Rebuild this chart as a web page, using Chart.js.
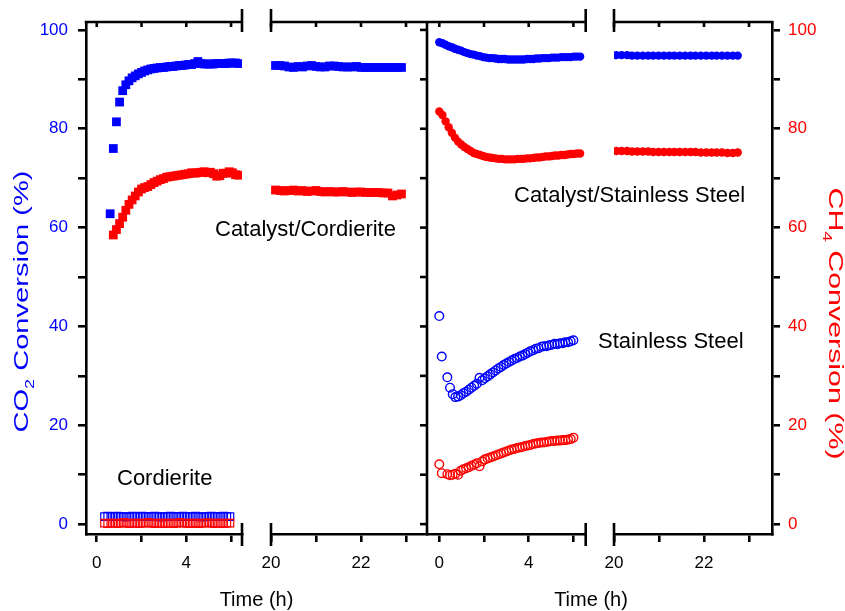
<!DOCTYPE html>
<html><head><meta charset="utf-8">
<script src="https://cdn.jsdelivr.net/npm/chart.js@4"></script>
<style>html,body{margin:0;padding:0;background:#fff}#wrap{position:relative;width:845px;height:611px}</style>
</head><body><div id="wrap"><canvas id="c" width="845" height="611"></canvas></div>
<script>
// ---------- data ----------
// Catalyst/Cordierite (filled squares)
const ccTime1 = [0.60,0.74,0.88,1.02,1.16,1.30,1.44,1.58,1.72,1.86,2.00,2.14,2.28,2.42,2.56,2.70,2.84,2.98,3.12,3.26,3.40,3.54,3.68,3.82,3.96,4.10,4.24,4.38,4.52,4.66,4.80,4.94,5.08,5.22,5.36,5.50,5.64,5.78,5.92,6.06,6.20,6.34];
const ccCO2_1 = [62.8,76.0,81.4,85.4,87.7,88.9,89.7,90.3,90.7,91.1,91.4,91.7,91.9,92.1,92.2,92.3,92.4,92.4,92.5,92.6,92.6,92.7,92.8,92.8,92.9,93.0,93.0,93.2,93.6,93.2,93.1,93.1,93.1,93.1,93.2,93.2,93.2,93.2,93.3,93.3,93.3,93.2];
const ccTimeCH4_1 = [0.74,0.88,1.02,1.16,1.30,1.44,1.58,1.72,1.86,2.00,2.14,2.28,2.42,2.56,2.70,2.84,2.98,3.12,3.26,3.40,3.54,3.68,3.82,3.96,4.10,4.24,4.38,4.52,4.66,4.80,4.94,5.08,5.22,5.36,5.50,5.64,5.78,5.92,6.06,6.20,6.34];
const ccCH4_1 = [58.5,59.6,60.8,62.1,63.5,64.7,65.6,66.4,67.2,67.8,68.1,68.3,68.7,69.1,69.4,69.7,69.9,70.2,70.3,70.4,70.5,70.6,70.7,70.8,70.9,71.1,71.0,71.1,71.2,71.3,71.1,71.2,70.9,70.4,70.5,71.0,71.0,71.3,71.1,70.7,70.6];
const ccTime2 = [20.1,20.2,20.3,20.4,20.5,20.6,20.7,20.8,20.9,21.0,21.1,21.2,21.3,21.4,21.5,21.6,21.7,21.8,21.9,22.0,22.1,22.2,22.3,22.4,22.5,22.6,22.7,22.8,22.9];
const ccCO2_2 = [92.8,92.8,92.7,92.5,92.4,92.6,92.5,92.7,92.8,92.6,92.5,92.5,92.7,92.7,92.6,92.5,92.5,92.5,92.6,92.4,92.4,92.4,92.4,92.4,92.4,92.4,92.4,92.4,92.4];
const ccCH4_2 = [67.6,67.5,67.4,67.5,67.6,67.4,67.5,67.3,67.4,67.5,67.3,67.2,67.3,67.2,67.2,67.3,67.2,67.1,67.2,67.2,67.1,67.1,67.1,67.1,67.0,67.0,66.4,66.6,66.8];
// Cordierite (open squares)
const cdTime = [0.35,0.49,0.63,0.77,0.91,1.05,1.19,1.33,1.47,1.61,1.75,1.89,2.03,2.17,2.31,2.45,2.59,2.73,2.87,3.01,3.15,3.29,3.43,3.57,3.71,3.85,3.99,4.13,4.27,4.41,4.55,4.69,4.83,4.97,5.11,5.25,5.39,5.53,5.67,5.81,5.95];
const cdCO2 = [1.5,1.6,1.5,1.5,1.6,1.5,1.5,1.4,1.5,1.6,1.5,1.5,1.6,1.5,1.5,1.5,1.6,1.5,1.4,1.5,1.5,1.6,1.5,1.5,1.5,1.6,1.5,1.5,1.5,1.6,1.5,1.4,1.5,1.5,1.6,1.5,1.5,1.5,1.6,1.5,1.5];
const cdCH4 = [0.2,0.1,0.2,0.2,0.1,0.2,0.3,0.2,0.1,0.2,0.2,0.1,0.2,0.2,0.3,0.2,0.1,0.2,0.2,0.1,0.2,0.2,0.1,0.2,0.3,0.2,0.2,0.1,0.2,0.2,0.1,0.2,0.2,0.3,0.2,0.1,0.2,0.2,0.1,0.2,0.2];
// Catalyst/Stainless Steel (filled circles)
const csTime1 = [0.00,0.14,0.28,0.42,0.56,0.70,0.84,0.98,1.12,1.26,1.40,1.54,1.68,1.82,1.96,2.10,2.24,2.38,2.52,2.66,2.80,2.94,3.08,3.22,3.36,3.50,3.64,3.78,3.92,4.06,4.20,4.34,4.48,4.62,4.76,4.90,5.04,5.18,5.32,5.46,5.60,5.74,5.88,6.02,6.16,6.30];
const csCO2_1 = [97.5,97.3,97.0,96.7,96.5,96.2,96.0,95.8,95.5,95.3,95.1,95.0,94.8,94.7,94.5,94.4,94.3,94.3,94.2,94.1,94.1,94.1,94.0,94.0,94.0,94.0,94.0,94.0,94.1,94.1,94.1,94.2,94.2,94.3,94.3,94.3,94.4,94.4,94.4,94.5,94.5,94.5,94.5,94.6,94.6,94.6];
const csCH4_1 = [83.5,82.8,81.5,80.3,79.2,78.2,77.4,76.8,76.3,75.9,75.5,75.1,74.9,74.7,74.5,74.3,74.2,74.1,74.0,73.9,73.9,73.8,73.8,73.8,73.8,73.9,73.9,73.9,74.0,74.0,74.1,74.2,74.2,74.3,74.4,74.4,74.5,74.6,74.6,74.7,74.7,74.8,74.9,74.9,75.0,75.0];
const csTime2 = [20.05,20.17,20.29,20.40,20.52,20.64,20.76,20.87,20.99,21.11,21.23,21.34,21.46,21.58,21.70,21.81,21.93,22.05,22.17,22.28,22.40,22.52,22.64,22.75];
const csCO2_2 = [94.9,94.9,94.9,94.8,94.8,94.8,94.8,94.8,94.8,94.8,94.8,94.8,94.8,94.8,94.8,94.8,94.8,94.8,94.8,94.8,94.8,94.8,94.8,94.8];
const csCH4_2 = [75.5,75.5,75.5,75.4,75.4,75.4,75.4,75.3,75.3,75.3,75.3,75.3,75.3,75.3,75.3,75.3,75.2,75.2,75.2,75.2,75.2,75.1,75.1,75.2];
// Stainless Steel (open circles)
const ssTime = [0,0.11,0.36,0.48,0.60,0.72,0.84,0.96,1.08,1.20,1.32,1.44,1.56,1.68,1.80,1.92,2.04,2.16,2.28,2.40,2.52,2.64,2.76,2.88,3.00,3.12,3.24,3.36,3.48,3.60,3.72,3.84,3.96,4.08,4.20,4.32,4.44,4.56,4.68,4.80,4.92,5.04,5.16,5.28,5.40,5.52,5.64,5.76,5.88,6.00];
const ssCO2 = [42.1,33.9,29.7,27.6,26.3,25.7,25.8,26.1,26.5,26.8,27.2,27.6,28.0,28.4,29.6,29.1,29.5,29.9,30.3,30.7,31.1,31.5,31.8,32.2,32.5,32.8,33.1,33.4,33.6,33.9,34.1,34.4,34.7,35.0,35.2,35.5,35.6,35.9,36.0,36.0,36.2,36.3,36.5,36.4,36.6,36.6,36.8,36.8,37.0,37.2];
const ssCH4 = [12.1,10.3,10.1,9.9,10.0,10.2,10.0,10.8,11.1,11.3,11.5,11.8,12.0,12.3,11.7,12.7,13.1,13.3,13.5,13.7,13.9,14.1,14.3,14.5,14.7,14.9,15.1,15.2,15.4,15.5,15.6,15.8,15.9,16.0,16.2,16.3,16.4,16.5,16.5,16.6,16.7,16.8,16.8,16.9,16.9,17.0,17.0,17.1,17.2,17.5];

// ticks
const yTicks = [0,10,20,30,40,50,60,70,80,90,100];
const yLabels = ['0','','20','','40','','60','','80','','100'];
const xTicks1 = [0,2,4,6];
const xLabels1 = ['0','','4',''];
const xTicks2 = [20,21,22,23];
const xLabels2 = ['20','','22',''];

// ---------- style ----------
const BLUE = '#0000ff', RED = '#ff0000';
const FONT = "'Liberation Sans', Arial, Helvetica, sans-serif";
const LW = 2.6;
const tickFont = {family: FONT, size: 17};

const pts = (xs, ys) => ys.map((y, i) => ({x: xs[i], y}));
function ds(xs, ys, xID, yID, color, style, filled, r, bw) {
  return {
    data: pts(xs, ys), xAxisID: xID, yAxisID: yID,
    pointStyle: style, pointRadius: r, pointHoverRadius: r,
    backgroundColor: filled ? color : 'rgba(0,0,0,0)',
    borderColor: color, pointBorderWidth: filled ? 0 : bw, borderWidth: filled ? 0 : bw,
    showLine: false
  };
}

function xAxis(min, max, ticks, labels, weight) {
  return {
    type: 'linear', position: 'bottom', stack: 'time', stackWeight: weight,
    min, max, offset: false,
    afterFit: s => { s.height = 77; },
    afterBuildTicks: s => { s.ticks = ticks.map(v => ({value: v})); },
    ticks: {autoSkip: false, maxRotation: 0, color: '#000', font: tickFont, padding: 11,
      callback: v => { const i = ticks.indexOf(v); return i < 0 ? '' : labels[i]; }},
    grid: {display: true, drawOnChartArea: false, drawTicks: true, tickLength: 8,
      tickWidth: LW, lineWidth: LW, tickColor: '#000', color: '#000'},
    border: {display: true, width: LW, color: '#000'}
  };
}
function gapAxis(weight) {
  return {
    type: 'linear', position: 'bottom', stack: 'time', stackWeight: weight, min: 0, max: 1,
    afterFit: s => { s.height = 77; },
    ticks: {display: false}, grid: {display: false}, border: {display: false}
  };
}
function yAxis(pos, color, width, pad) {
  return {
    type: 'linear', position: pos, min: -2, max: 101.6,
    afterFit: s => { s.width = width; },
    afterBuildTicks: s => { s.ticks = yTicks.map(v => ({value: v})); },
    ticks: {color, font: tickFont, padding: pad,
      callback: v => { const i = yTicks.indexOf(v); return i < 0 ? '' : yLabels[i]; }},
    grid: {display: true, drawOnChartArea: false, drawTicks: true, tickLength: 8,
      tickWidth: LW, lineWidth: LW, tickColor: '#000', color: '#000'},
    border: {display: true, width: LW, color: '#000'}
  };
}

function line(ctx, x1, y1, x2, y2) { ctx.beginPath(); ctx.moveTo(x1, y1); ctx.lineTo(x2, y2); ctx.stroke(); }

function rotTitle(ctx, parts, bx, cy, angle, target, size) {
  ctx.save();
  ctx.translate(bx, cy);
  ctx.rotate(angle);
  const mainF = size + 'px ' + FONT, subF = Math.round(size * 0.62) + 'px ' + FONT;
  let W = 0;
  parts.forEach(p => { ctx.font = p.sub ? subF : mainF; W += ctx.measureText(p.t).width; });
  ctx.scale(target / W, 1);
  let x = -W / 2;
  ctx.textBaseline = 'alphabetic'; ctx.textAlign = 'left';
  parts.forEach(p => {
    ctx.font = p.sub ? subF : mainF;
    ctx.fillText(p.t, x, p.sub ? size * 0.28 : 0);
    x += ctx.measureText(p.t).width;
  });
  ctx.restore();
}

const frame = {
  id: 'frame',
  afterDraw(chart) {
    const ctx = chart.ctx, ca = chart.chartArea, s = chart.scales;
    ctx.save();
    ctx.strokeStyle = '#000'; ctx.lineWidth = LW; ctx.lineCap = 'butt';
    const segs = [s.xL1, s.xL2, s.xR1, s.xR2];
    segs.forEach((sc, k) => {
      const l = (k === 0) ? sc.left - LW / 2 : sc.left;
      const r = (k === 3) ? sc.right + LW / 2 : sc.right;
      line(ctx, l, ca.top, r, ca.top);
      sc.ticks.forEach(t => { const px = sc.getPixelForValue(t.value); line(ctx, px, ca.top, px, ca.top + 5); });
    });
    [s.xL1.right, s.xL2.left, s.xR1.right, s.xR2.left].forEach(px => {
      line(ctx, px, ca.top - 13, px, ca.top + 10);
      line(ctx, px, ca.bottom - 11, px, ca.bottom + 12);
    });
    const mid = s.xL2.right;
    line(ctx, mid, ca.top, mid, ca.bottom);
    s.y.ticks.forEach(t => { const py = s.y.getPixelForValue(t.value); line(ctx, mid - 7, py, mid, py); });

    // annotations
    ctx.fillStyle = '#000';
    ctx.font = '22px ' + FONT; ctx.textBaseline = 'alphabetic'; ctx.textAlign = 'left';
    ctx.fillText('Catalyst/Cordierite', 215, 236);
    ctx.fillText('Cordierite', 117, 485);
    ctx.fillText('Catalyst/Stainless Steel', 514, 202);
    ctx.fillText('Stainless Steel', 598, 348);
    // x titles
    ctx.font = '20px ' + FONT; ctx.textAlign = 'center';
    ctx.fillText('Time (h)', (s.xL1.left + s.xL2.right) / 2, 606);
    ctx.fillText('Time (h)', 591, 606);
    // y titles
    ctx.fillStyle = BLUE;
    rotTitle(ctx, [{t: 'CO'}, {t: '2', sub: true}, {t: ' Conversion (%)'}], 28, 301.5, -Math.PI / 2, 262, 21);
    ctx.fillStyle = RED;
    rotTitle(ctx, [{t: 'CH'}, {t: '4', sub: true}, {t: ' Conversion (%)'}], 828.5, 323.5, Math.PI / 2, 272, 21);
    ctx.restore();
  }
};

new Chart(document.getElementById('c'), {
  type: 'scatter',
  data: {datasets: [
    ds(cdTime, cdCH4, 'xL1', 'y2', RED, 'rect', false, 5.4, 1.2),
    ds(cdTime, cdCO2, 'xL1', 'y', BLUE, 'rect', false, 5.4, 1.2),
    ds(ccTime1, ccCO2_1, 'xL1', 'y', BLUE, 'rect', true, 6.2),
    ds(ccTimeCH4_1, ccCH4_1, 'xL1', 'y2', RED, 'rect', true, 6.2),
    ds(ccTime2, ccCO2_2, 'xL2', 'y', BLUE, 'rect', true, 6.2),
    ds(ccTime2, ccCH4_2, 'xL2', 'y2', RED, 'rect', true, 6.2),
    ds(csTime1, csCO2_1, 'xR1', 'y', BLUE, 'circle', true, 4.2),
    ds(csTime1, csCH4_1, 'xR1', 'y2', RED, 'circle', true, 4.2),
    ds(csTime2, csCO2_2, 'xR2', 'y', BLUE, 'circle', true, 4.2),
    ds(csTime2, csCH4_2, 'xR2', 'y2', RED, 'circle', true, 4.2),
    ds(ssTime, ssCO2, 'xR1', 'y', BLUE, 'circle', false, 4.3, 1.4),
    ds(ssTime, ssCH4, 'xR1', 'y2', RED, 'circle', false, 4.3, 1.4)
  ]},
  options: {
    responsive: false, animation: false, events: [],
    layout: {padding: {top: 22, left: 0, right: 0, bottom: 0}},
    plugins: {legend: {display: false}, tooltip: {enabled: false}, title: {display: false}},
    scales: {
      xL1: xAxis(-0.48, 6.49, xTicks1, xLabels1, 156),
      gL: gapAxis(29),
      xL2: xAxis(20, 23.467, xTicks2, xLabels2, 156),
      xR1: xAxis(-0.55, 6.55, xTicks1, xLabels1, 158.7),
      gR: gapAxis(28.3),
      xR2: xAxis(20, 23.511, xTicks2, xLabels2, 158),
      y: yAxis('left', BLUE, 86, 10),
      y2: yAxis('right', RED, 73, 8)
    }
  },
  plugins: [frame]
});
</script></body></html>
